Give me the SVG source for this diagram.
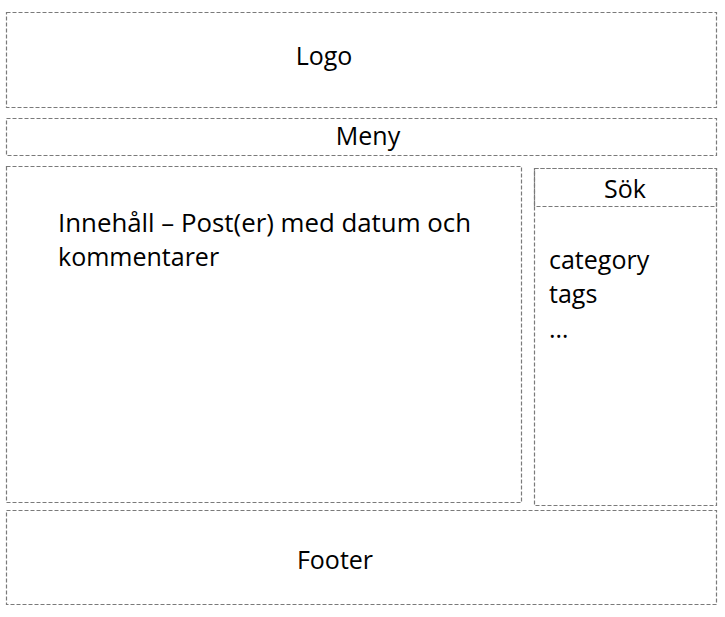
<svg xmlns="http://www.w3.org/2000/svg" width="725" height="617" viewBox="0 0 725 617">
<style>
.box{fill:none;stroke:#7a7a7a;stroke-width:1.2;stroke-dasharray:4,2}
text{font-family:"Open Sans","Liberation Sans",sans-serif;font-size:25px;fill:#000}
.c{text-anchor:middle}
</style>
<rect width="725" height="617" fill="#fff"/>
<g id="logo"><rect class="box" x="6.5" y="12.5" width="710" height="95"/><text class="c" x="324" y="65">Logo</text></g>
<g id="meny"><rect class="box" x="6.5" y="118.5" width="710" height="37"/><text class="c" x="368" y="145">Meny</text></g>
<g id="innehall"><rect class="box" x="6.5" y="166.5" width="515" height="336"/>
<text x="58" y="232" textLength="413" lengthAdjust="spacingAndGlyphs">Innehåll – Post(er) med datum och</text>
<text x="58" y="266">kommentarer</text></g>
<g id="sidebar"><rect class="box" x="534.5" y="168.5" width="182" height="337"/>
<text x="549" y="269">category</text><text x="549" y="303">tags</text><text x="549" y="338">…</text></g>
<g id="sok"><rect class="box" x="534.5" y="168.5" width="182" height="38"/><text class="c" x="625" y="198">Sök</text></g>
<g id="footer"><rect class="box" x="6.5" y="510.5" width="710" height="94"/><text class="c" x="335" y="569">Footer</text></g>
<g id="connectors"/>
</svg>
